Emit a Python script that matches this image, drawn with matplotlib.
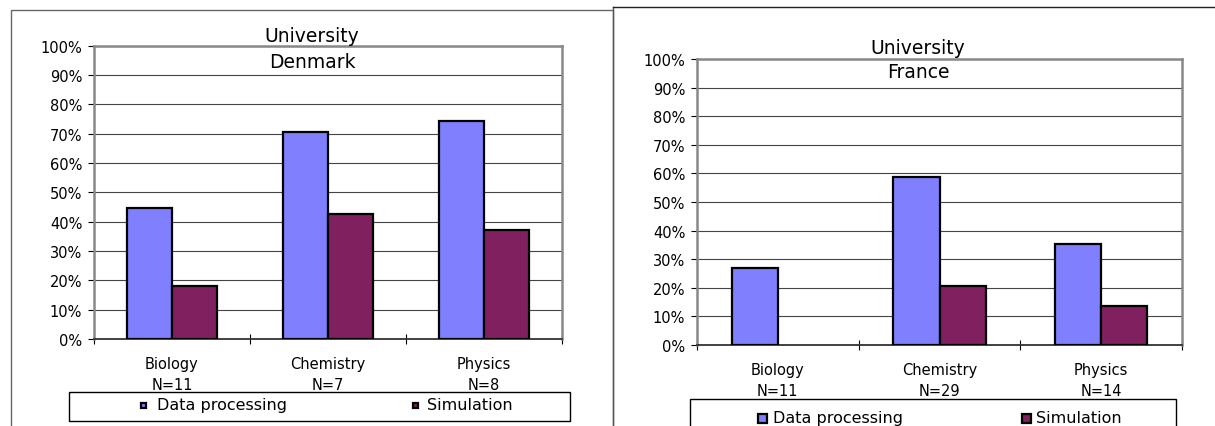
import matplotlib.pyplot as plt
from matplotlib.patches import Rectangle
from matplotlib.lines import Line2D

W, H = 1215, 427

categorias = ['Biology', 'Chemistry', 'Physics']
n_denmark = [11, 7, 8]
n_france = [11, 29, 14]

# porcentajes (%)
dp_denmark = [44.5, 70.5, 74.3]
sim_denmark = [18.0, 42.5, 37.0]
dp_france = [26.9, 58.8, 35.4]
sim_france = [0.0, 20.5, 13.8]

color_dp = '#8080ff'
color_sim = '#80205f'


def fx(x):
    return x / W


def fy(y):
    return 1 - y / H


def dibujar_panel(fig, caja, dp, sim, ns, pais, titulo_xy, legend_cfg):
    x0, y0, x1, y1 = caja
    ax = fig.add_axes([fx(x0), fy(y1), (x1 - x0) / W, (y1 - y0) / H])
    ancho = 1 / 3.5
    centros = [i + 0.5 for i in range(len(categorias))]
    lw_dp = [1.6 if v > 0 else 0 for v in dp]
    lw_sim = [1.6 if v > 0 else 0 for v in sim]
    ax.bar([c - ancho / 2 for c in centros], dp, ancho, color=color_dp,
           edgecolor='black', linewidth=lw_dp, zorder=3)
    ax.bar([c + ancho / 2 for c in centros], sim, ancho, color=color_sim,
           edgecolor='black', linewidth=lw_sim, zorder=3)
    ax.set_xlim(0, 3)
    ax.set_ylim(0, 100)
    ax.set_yticks(range(0, 101, 10))
    ax.set_yticklabels([f'{v}%' for v in range(0, 101, 10)], fontsize=10.5)
    ax.yaxis.grid(True, color='#444444', linewidth=0.8, zorder=0)
    ax.tick_params(axis='y', length=4.5, width=0.8, pad=4)
    ax.set_xticks([0, 1, 2, 3])
    ax.set_xticklabels([])
    ax.tick_params(axis='x', which='major', direction='inout', length=7, width=0.8)
    ax.set_xticks(centros, minor=True)
    ax.set_xticklabels([f'{c}\nN={n}' for c, n in zip(categorias, ns)],
                       minor=True, fontsize=10.5, linespacing=1.45)
    ax.tick_params(axis='x', which='minor', length=0, pad=12.5)
    for lado in ['top', 'left', 'right']:
        ax.spines[lado].set_color('#888888')
        ax.spines[lado].set_linewidth(1.8)
    ax.spines['bottom'].set_color('#333333')
    ax.spines['bottom'].set_linewidth(1.3)

    tx, ty, sep = titulo_xy
    fig.text(fx(tx), fy(ty), 'University\n' + pais, ha='center', va='center',
             fontsize=13.5, linespacing=sep)

    # leyenda
    (bx0, by0, bx1, by1), tam, ty_ley, entradas = legend_cfg
    fig.patches.append(Rectangle((fx(bx0), fy(by1)), (bx1 - bx0) / W, (by1 - by0) / H,
                                 transform=fig.transFigure, facecolor='white',
                                 edgecolor='black', linewidth=1))
    for (mx, texto_x, color, texto) in entradas:
        fig.patches.append(Rectangle((fx(mx - tam / 2), fy(ty_ley + tam / 2)), tam / W, tam / H,
                                     transform=fig.transFigure, facecolor=color,
                                     edgecolor='black', linewidth=1.6))
        fig.text(fx(texto_x), fy(ty_ley), texto, ha='left', va='center', fontsize=11.5)
    return ax


fig = plt.figure(figsize=(W / 100, H / 100), dpi=100)

# marcos de los dos gráficos
fig.patches.append(Rectangle((fx(10.7), fy(440)), (613 - 10.7) / W, (440 - 11) / H,
                             transform=fig.transFigure, facecolor='none',
                             edgecolor='#666666', linewidth=1))
fig.lines.append(Line2D([fx(613), fx(613)], [fy(8), fy(440)], transform=fig.transFigure,
                        color='#555555', linewidth=1))
fig.lines.append(Line2D([fx(613), fx(1215)], [fy(8), fy(8)], transform=fig.transFigure,
                        color='#222222', linewidth=1))

dibujar_panel(fig, (94, 46.7, 562, 340), dp_denmark, sim_denmark, n_denmark, 'Denmark',
              (312, 49.5, 1.5),
              ((69, 393, 570, 422), 5, 406,
               [(143.5, 157, color_dp, 'Data processing'),
                (415, 427, color_sim, 'Simulation')]))

dibujar_panel(fig, (697, 60, 1182, 346), dp_france, sim_france, n_france, 'France',
              (918, 60.5, 1.4),
              ((690, 400, 1176, 440), 9, 419,
               [(762, 773, color_dp, 'Data processing'),
                (1026, 1036, color_sim, 'Simulation')]))

fig.savefig('out.png', dpi=100)
